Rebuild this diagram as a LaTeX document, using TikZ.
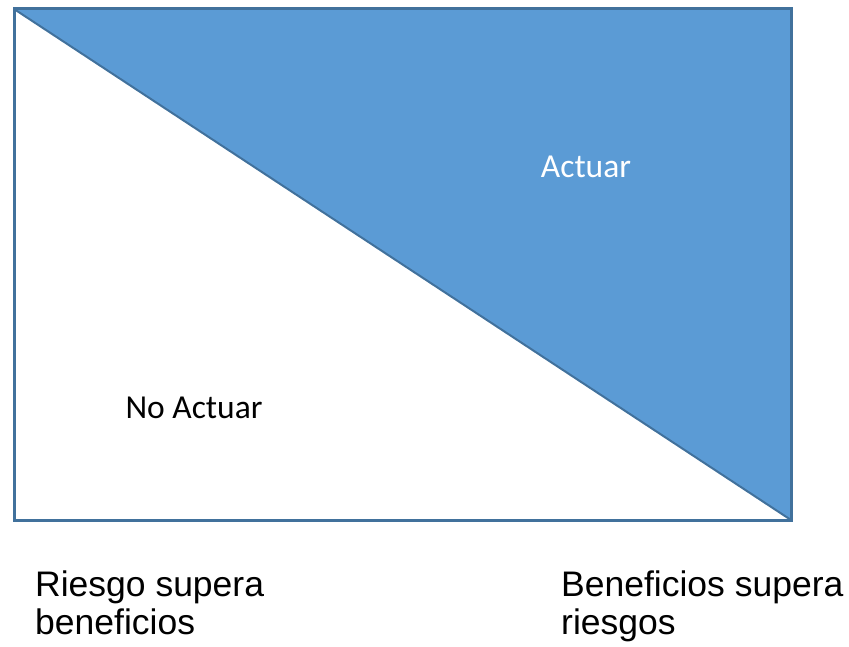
\documentclass[tikz,border=0pt]{standalone}
\usepackage{fontspec}
\setmainfont{Liberation Sans}
\newfontfamily\calibrifont{Carlito}
\definecolor{zoneblue}{HTML}{5B9BD5}
\definecolor{edgeblue}{HTML}{41719C}

\begin{document}
\begin{tikzpicture}[x=1pt, y=-1pt, zone/.style={draw=edgeblue, line width=3pt, line join=miter}, inlabel/.style={font=\calibrifont\fontsize{33.5}{40}\selectfont, inner sep=0pt, anchor=base}, outlabel/.style={font=\fontsize{35.5}{37.5}\selectfont, inner sep=0pt, align=left, anchor=base west}]
		\useasboundingbox (0,0) rectangle (849,647);

		\coordinate (tl) at (14,9);
		\coordinate (tr) at (791,9);
		\coordinate (br) at (791,520);
		\coordinate (bl) at (14,520);

		\fill [zoneblue](tl) -- (tr) -- (br) -- cycle;
		\draw [zone](tl) -- (tr) -- (br) -- (bl) -- cycle;
		\draw [edgeblue, line width=2pt](tl) -- (br);

		\node (actuar)[inlabel, text=white] at (586,178){Actuar};
		\node (noactuar)[inlabel] at (194,418){No Actuar};

		\node (riesgo)[outlabel] at (35,634){Riesgo supera\\beneficios};
		\node (beneficios)[outlabel] at (561,634){Beneficios supera\\riesgos};
	\end{tikzpicture}
\end{document}
